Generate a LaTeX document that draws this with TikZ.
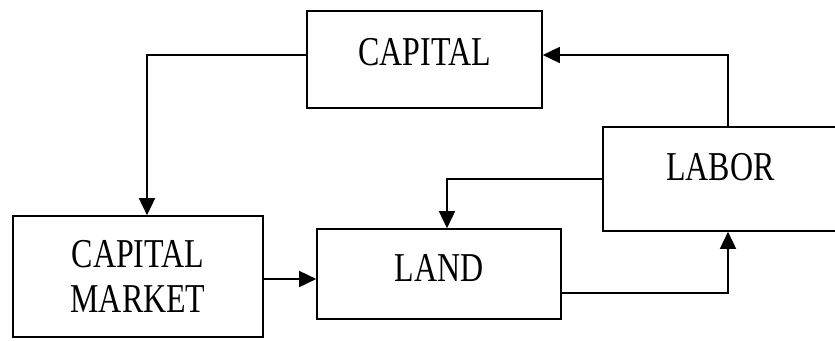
\documentclass[tikz,border=0pt]{standalone}
\usepackage{fontspec}
\setmainfont{Liberation Serif}[FakeStretch = 0.78]
\usepackage{tikz}
\usetikzlibrary{arrows.meta}
\usetikzlibrary{positioning}
\tikzset{box/.style = {draw, line width = 1.6pt, rectangle, inner sep = 0,
    font = \fontsize{41pt}{45pt}\selectfont, align = center}}
\tikzset{raised/.style = {text height = 27pt, text depth = #1}}
\tikzset{link/.style = {line width = 1.6pt, -{Triangle[length = 17pt, width = 16pt]}}}

\begin{document}
\begin{tikzpicture}[x = 1pt, y = -1pt]
      \useasboundingbox (0, 0) rectangle (835, 340);
      \node [box, raised = 15pt, minimum width = 235, minimum height = 97] (capital) at (424.5, 59.5) {CAPITAL};
      \node [box, raised = 24pt, minimum width = 235, minimum height = 104] (labor) at (720.5, 179) {LABOR};
      \node [box, minimum width = 250, minimum height = 121] (market) at (138, 276.5) {CAPITAL\\MARKET};
      \node [box, raised = 12pt, minimum width = 244, minimum height = 90] (land) at (439, 274) {LAND};
      \coordinate (mk) at ([yshift = -2.5pt]market.east);
      \draw [link] ([yshift = 4.5pt]capital.west) -| ([xshift = 9pt]market.north);
      \draw [link] ([xshift = 7.5pt]labor.north) |- ([yshift = 4.5pt]capital.east);
      \draw [link] (labor.west) -| ([xshift = 8pt]land.north);
      \draw [link] (mk) -- (mk -| land.west);
      \draw [link] ([yshift = -19pt]land.east) -| ([xshift = 7.5pt]labor.south);
    \end{tikzpicture}
\end{document}
